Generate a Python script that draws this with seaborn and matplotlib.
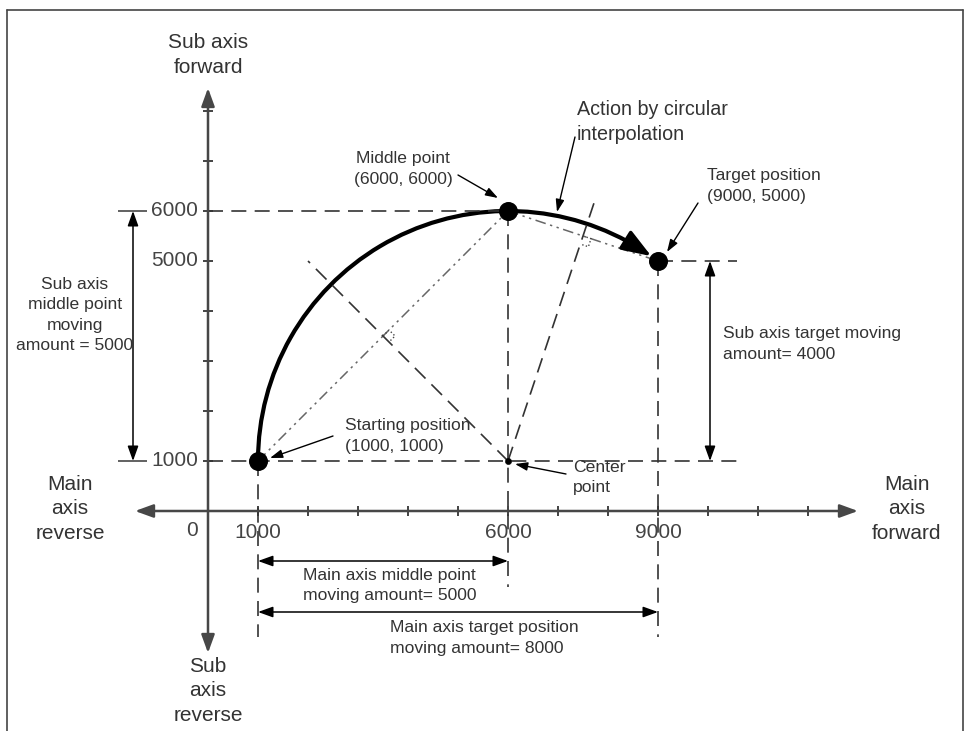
import numpy as np
import pandas as pd
import matplotlib.pyplot as plt
import matplotlib.patches as mpatches
from matplotlib.lines import Line2D
import seaborn as sns

sns.set_theme(style="white")
plt.rcParams['font.family'] = ['Liberation Sans', 'DejaVu Sans']

# chart data
point_names = ["Starting position", "Middle point", "Target position"]
point_x = [1000, 6000, 9000]
point_y = [1000, 6000, 5000]
center_x = 6000
center_y = 1000
main_ticks = [1000, 2000, 3000, 4000, 5000, 6000, 7000, 8000, 9000, 10000, 11000, 12000]
sub_ticks = [1000, 2000, 3000, 4000, 5000, 6000, 7000, 8000]
main_labels = [1000, 6000, 9000]
sub_labels = [1000, 5000, 6000]

INK = '#333333'
AX = '#474747'

fig = plt.figure(figsize=(9.72, 7.31), dpi=100)
ax = fig.add_axes([0, 0, 1, 1])


def arrow(x0, y0, x1, y1, style='-|>', lw=1.0, color='black', scale=15):
    ax.annotate('', xy=(x1, y1), xytext=(x0, y0),
                arrowprops=dict(arrowstyle=style, lw=lw, color=color,
                                shrinkA=0, shrinkB=0, mutation_scale=scale))


def dashed(xs, ys, **kw):
    ax.plot(xs, ys, color=INK, lw=1.2, dashes=(9, 5), **kw)


# frame around the drawing
for xs, ys in [([7, 7], [0, 721]), ([7, 963], [721, 721]), ([963, 963], [721, 0])]:
    fig.add_artist(Line2D([x / 972 for x in xs], [y / 731 for y in ys], color='#444', lw=1.2))

# main and sub axes
arrow(-1460, 0, 13000, 0, '<|-|>,head_length=0.55,head_width=0.2', lw=1.8, color=AX, scale=20)
arrow(0, -2840, 0, 8460, '<|-|>,head_length=0.55,head_width=0.2', lw=1.8, color=AX, scale=20)
ax.vlines(main_ticks, -100, 100, color='#222', lw=1.2)
ax.hlines(sub_ticks, -100, 100, color='#222', lw=1.2)

# tick labels
ax.text(-320, -400, "0", fontsize=15, color='#444', ha='center', va='center')
for v in main_labels:
    ax.text(v, -440, str(v), fontsize=15, color='#444', ha='center', va='center')
for v in sub_labels:
    ax.text(-200, v, str(v), fontsize=15, color='#444', ha='right', va='center')

# axis names
big = dict(fontsize=15, color=INK, ha='center', va='center', linespacing=1.38)
ax.text(0, 9120, "Sub axis\nforward", **big)
ax.text(0, -3600, "Sub\naxis\nreverse", **big)
ax.text(-2760, 40, "Main\naxis\nreverse", **big)
ax.text(13980, 40, "Main\naxis\nforward", **big)

# guide lines
sx, mx, tx = point_x
sy, my, ty = point_y
dashed([0, mx], [my, my])
dashed([0, 10580], [sy, sy])
dashed([tx, 10580], [ty, ty])
dashed([sx, sx], [sy, -2520])
dashed([mx, mx], [my, -1520])
dashed([tx, tx], [ty, -2520])

# chords (dash-dot-dot)
ax.plot(point_x[:2], point_y[:2], color='#666', lw=1.1, dashes=(7, 3, 1.5, 3, 1.5, 3))
ax.plot(point_x[1:], point_y[1:], color='#666', lw=1.1, dashes=(7, 3, 1.5, 3, 1.5, 3))

# perpendicular bisectors through the centre, with right-angle marks
for i, k in [(0, 1.6), (1, 1.15)]:
    mid = np.array([(point_x[i] + point_x[i + 1]) / 2, (point_y[i] + point_y[i + 1]) / 2])
    c = np.array([center_x, center_y])
    end = c + k * (mid - c)
    dashed([c[0], end[0]], [c[1], end[1]])
    u = np.array([point_x[i + 1] - point_x[i], point_y[i + 1] - point_y[i]], float)
    u /= np.linalg.norm(u)
    v = (c - mid) / np.linalg.norm(c - mid)
    a = 170
    sq = np.array([mid, mid + a * u, mid + a * (u + v), mid + a * v])
    ax.plot(sq[:, 0], sq[:, 1], color='#444', lw=1.0, ls=':')

# circular interpolation arc with arrowhead
r = np.hypot(sx - center_x, sy - center_y)
th_t = np.degrees(np.arctan2(ty - center_y, tx - center_x))
th_tip = th_t + np.degrees(165 / r)
th_base = th_tip + np.degrees(520 / r)
ax.add_patch(mpatches.Arc((center_x, center_y), 2 * r, 2 * r, theta1=th_base + 0.5,
                          theta2=180, lw=3, color='black'))
tip = (center_x + r * np.cos(np.radians(th_tip)), center_y + r * np.sin(np.radians(th_tip)))
base = (center_x + r * np.cos(np.radians(th_base)), center_y + r * np.sin(np.radians(th_base)))
arrow(base[0], base[1], tip[0], tip[1], '-|>,head_length=0.6,head_width=0.22', lw=2.5, scale=30)

# points
pts = pd.DataFrame({'x': point_x, 'y': point_y, 'name': point_names})
sns.scatterplot(data=pts, x='x', y='y', s=160, color='black', edgecolor='black',
                zorder=6, ax=ax, legend=False)
sns.scatterplot(x=[center_x], y=[center_y], s=20, color='black', edgecolor='black',
                zorder=6, ax=ax, legend=False)

# dimension arrows
dim = '<|-|>,head_length=0.5,head_width=0.18'
ax.hlines([sy, my], -1800, -1220, color=AX, lw=1.2)
arrow(-1500, sy, -1500, my, dim, lw=1.1, scale=18)
arrow(10040, sy, 10040, ty, dim, lw=1.1, scale=18)
arrow(sx, -1000, mx, -1000, dim, lw=1.1, scale=18)
arrow(sx, -2020, tx, -2020, dim, lw=1.1, scale=18)

small = dict(fontsize=12.6, color=INK, va='center', linespacing=1.45)
ax.text(-2660, 3920, "Sub axis\nmiddle point\nmoving\namount = 5000", ha='center', **small)
ax.text(10300, 3340, "Sub axis target moving\namount= 4000", ha='left', **small)
ax.text(1900, -1490, "Main axis middle point\nmoving amount= 5000", ha='left', **small)
ax.text(3640, -2540, "Main axis target position\nmoving amount= 8000", ha='left', **small)

# point callouts
note = '-|>,head_length=0.5,head_width=0.17'
ax.text(3900, 6840, "Middle point\n(6000, 6000)", ha='center', **small)
arrow(5000, 6720, 5800, 6260, note, lw=1.0, scale=15)
ax.text(7380, 7780, "Action by circular\ninterpolation", fontsize=14.2, color=INK,
        ha='left', va='center', linespacing=1.4)
arrow(7340, 7480, 6980, 5980, note, lw=1.0, scale=15)
ax.text(9980, 6500, "Target position\n(9000, 5000)", ha='left', **small)
arrow(9800, 6160, 9180, 5180, note, lw=1.0, scale=15)
ax.text(2740, 1500, "Starting position\n(1000, 1000)", ha='left', **small)
arrow(2500, 1500, 1240, 1060, note, lw=1.0, scale=15)
ax.text(7300, 670, "Center\npoint", ha='left', **small)
arrow(7160, 740, 6140, 940, note, lw=1.0, scale=15)

ax.set_xlim(-4160, 15280)
ax.set_ylim(-4400, 10220)
ax.set_axis_off()

fig.savefig("out.png", dpi=100)
